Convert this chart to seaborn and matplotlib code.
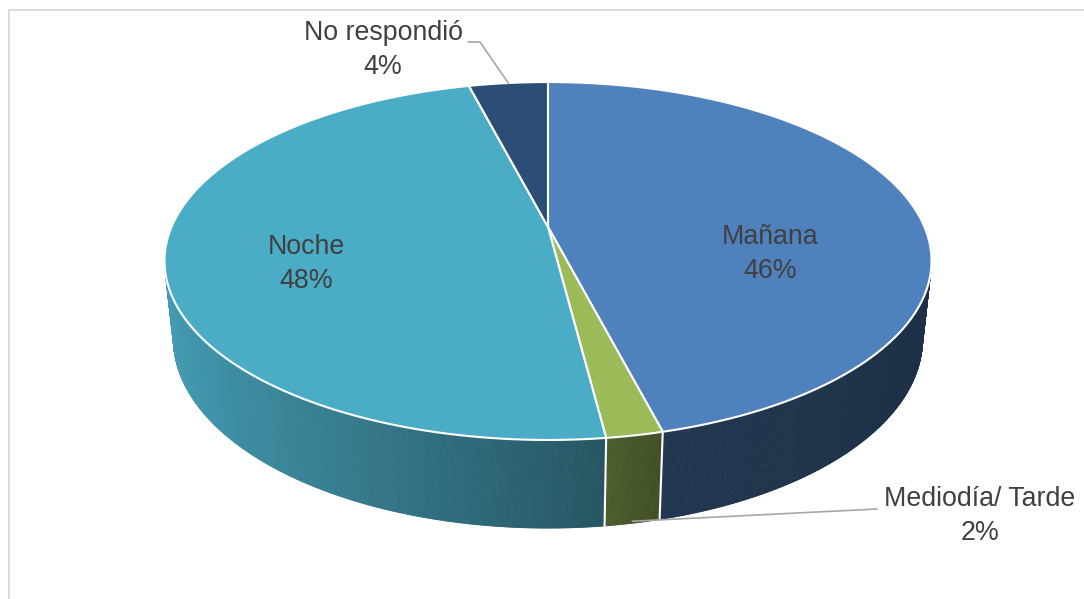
import numpy as np
import matplotlib
matplotlib.use("Agg")
import matplotlib.pyplot as plt
from matplotlib.patches import Polygon
import seaborn as sns

# Survey answers: time of day
categories = ["Mañana", "Mediodía/ Tarde", "Noche", "No respondió"]
percentages = [46, 2, 48, 4]
slice_colors = ["#4F81BD", "#9BBB59", "#4BACC6", "#2C4D75"]

sns.set_theme(style="white")
plt.rcParams["font.family"] = ["Liberation Sans", "DejaVu Sans"]
palette = sns.color_palette(slice_colors)

W, H_PX = 1084, 599
fig = plt.figure(figsize=(W / 100, H_PX / 100), dpi=100)
ax = fig.add_axes([0, 0, 1, 1])
ax.set_xlim(0, W)
ax.set_ylim(H_PX, 0)
ax.axis("off")

# --- perspective camera for a tilted 3-D pie ---
CX, CY = 548.0, 227.0          # screen position of the pie centre
A_SCALE, B_SCALE, K = 376.5, 172.5, 0.19
SIN_A = B_SCALE / A_SCALE
COS_A = np.sqrt(1 - SIN_A ** 2)
DIST = COS_A / K
FOC = A_SCALE * DIST
THICK = 0.234                  # pie thickness, in radius units


def project(t, level=0.0):
    """t: fraction of the circle clockwise from the top; level 0 top, 1 bottom."""
    t = np.asarray(t, dtype=float)
    u = np.sin(2 * np.pi * t)
    v = -np.cos(2 * np.pi * t)
    y3 = -THICK * level
    depth = DIST - (v * COS_A + y3 * SIN_A)
    yc = y3 * COS_A - v * SIN_A
    return CX + FOC * u / depth, CY - FOC * yc / depth


def visible(t):
    v = -np.cos(2 * np.pi * t)
    return v * DIST * COS_A - 1 > 0


def shade(t):
    u = np.sin(2 * np.pi * t)
    return np.interp(u, [-1, 0.12, 0.25, 1], [0.92, 0.50, 0.42, 0.37])


fracs = np.array(percentages, dtype=float) / np.sum(percentages)
bounds = np.concatenate([[0], np.cumsum(fracs)])

# outer walls, in thin strips so the lighting can vary around the rim
for i, col in enumerate(palette):
    t0, t1 = bounds[i], bounds[i + 1]
    n = max(int((t1 - t0) * 1500), 2)
    ts = np.linspace(t0, t1, n + 1)
    for a, b in zip(ts[:-1], ts[1:]):
        if not visible((a + b) / 2):
            continue
        xt, yt = project([a, b], 0)
        xb, yb = project([b, a], 1)
        c = np.clip(np.array(col) * shade((a + b) / 2), 0, 1)
        ax.add_patch(Polygon(np.column_stack([np.r_[xt, xb], np.r_[yt, yb]]),
                             closed=True, facecolor=c, edgecolor=c, lw=0.6,
                             zorder=2))

# white seams between slices on the wall
for b in bounds[:-1]:
    if visible(b):
        xs, ys = project([b, b], 0)
        xe, ye = project([b, b], 1)
        ax.plot([xs[0], xe[0]], [ys[0], ye[0]], color="white", lw=1.5, zorder=3)

# top faces
for i, col in enumerate(palette):
    ts = np.linspace(bounds[i], bounds[i + 1], 200)
    xs, ys = project(ts, 0)
    pts = np.column_stack([np.r_[CX, xs], np.r_[CY, ys]])
    ax.add_patch(Polygon(pts, closed=True, facecolor=col, edgecolor="white",
                         lw=1.5, joinstyle="round", zorder=4))

# labels
text_kw = dict(fontsize=19.3, color="#404040", ha="center", va="center",
               linespacing=1.35, zorder=6)
label_pos = {
    "Mañana": (770, 254),
    "Mediodía/ Tarde": (980, 516),
    "Noche": (306, 264),
    "No respondió": (383, 50),
}
for name, pct in zip(categories, percentages):
    x, y = label_pos[name]
    ax.text(x, y, f"{name}\n{pct}%", **text_kw)

# leader lines for the small slices
mid_nr = (bounds[3] + bounds[4]) / 2
xa, ya = project(mid_nr, 0)
ax.plot([xa, 480, 468], [ya, 42, 42], color="#A6A6A6", lw=1.2, zorder=5)
mid_md = (bounds[1] + bounds[2]) / 2
xa, ya = project(mid_md, 1)
ax.plot([xa, 877], [ya - 2, 509], color="#A6A6A6", lw=1.2, zorder=5)

# chart area frame
ax.plot([8.5, 8.5, W + 5], [H_PX + 5, 9.5, 9.5], color="#D9D9D9", lw=1.3,
        solid_joinstyle="miter", zorder=1)

fig.savefig("out.png", dpi=100, facecolor="white")
